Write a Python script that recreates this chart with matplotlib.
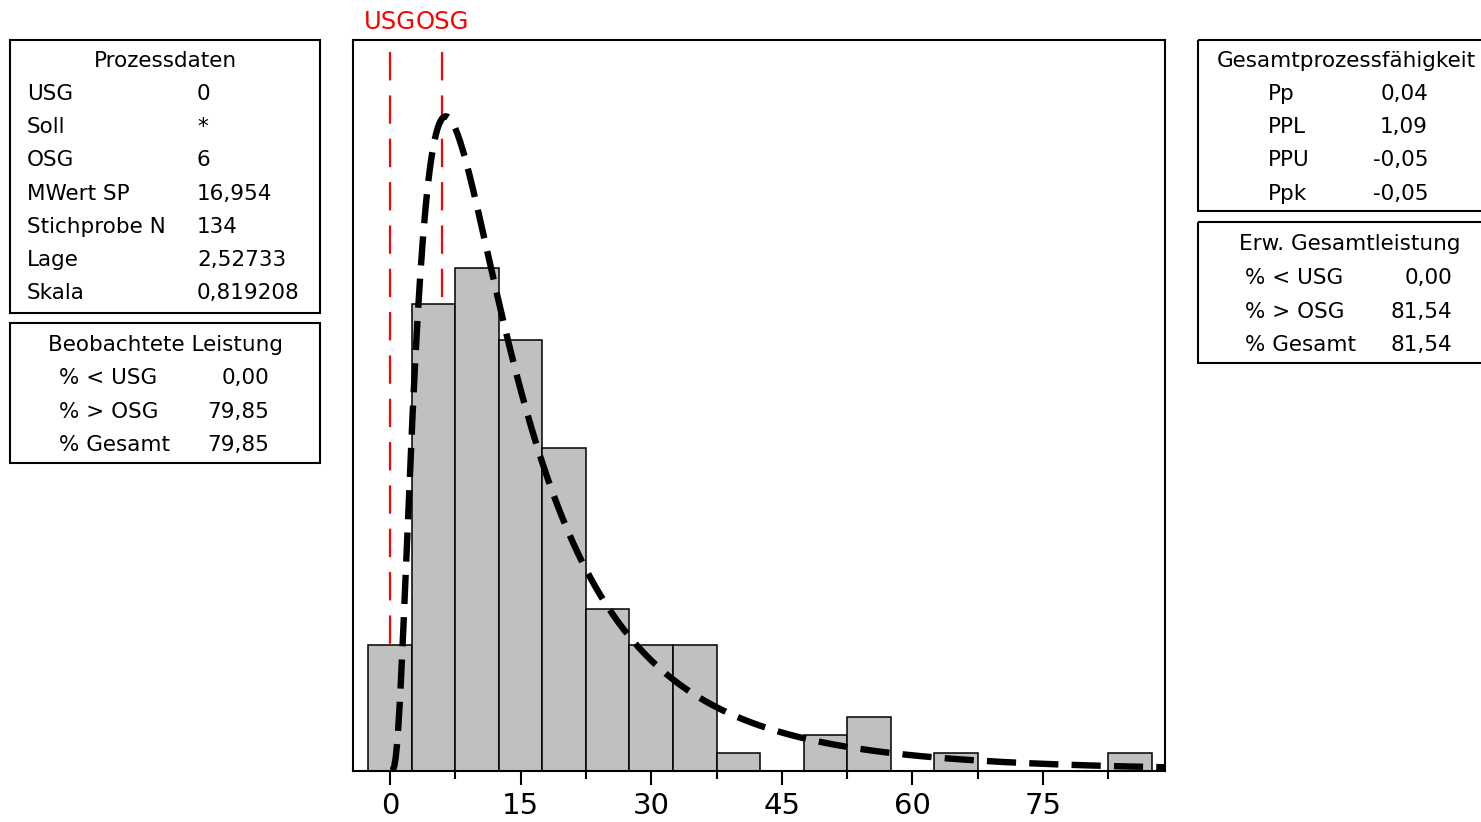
import numpy as np
import matplotlib
matplotlib.use("Agg")
import matplotlib.pyplot as plt
from matplotlib.patches import Rectangle
from matplotlib.ticker import MultipleLocator

# ─── DATA ─────────────────────────────────────────────────────────────────────
bin_centers = [0, 5, 10, 15, 20, 25, 30, 35, 40, 45, 50, 55, 60, 65, 70, 75, 80, 85]
counts      = [7, 26, 28, 24, 18, 9, 7, 7, 1, 0, 2, 3, 0, 1, 0, 0, 0, 1]
bin_width   = 5
usg, osg    = 0, 6
n_sample    = 134
lage, skala = 2.52733, 0.819208

prozess_labels = ["USG", "Soll", "OSG", "MWert SP", "Stichprobe N", "Lage", "Skala"]
prozess_values = ["0", "*", "6", "16,954", "134", "2,52733", "0,819208"]
beob_labels = ["% < USG", "% > OSG", "% Gesamt"]
beob_values = ["0,00", "79,85", "79,85"]
faehig_labels = ["Pp", "PPL", "PPU", "Ppk"]
faehig_values = ["0,04", "1,09", "-0,05", "-0,05"]
erw_labels = ["% < USG", "% > OSG", "% Gesamt"]
erw_values = ["0,00", "81,54", "81,54"]
# ──────────────────────────────────────────────────────────────────────────────

plt.rcParams["font.family"] = ["DejaVu Sans"]
plt.rcParams["lines.scale_dashes"] = False

W, H = 1481, 822
fig = plt.figure(figsize=(W / 100, H / 100), dpi=100)

# main histogram axes (pixel frame 353..1165 x 40..771)
ax = fig.add_axes([353 / W, 1 - 771 / H, (1165 - 353) / W, (771 - 40) / H])
ax.set_xlim(-4.25, 89.0)
ax.set_ylim(0, 40.7)

ax.bar(bin_centers, counts, width=bin_width, color="#c0c0c0",
       edgecolor="black", linewidth=1.1, zorder=2)

# fitted lognormal curve, scaled to counts
x = np.linspace(0.05, 89.0, 600)
pdf = np.exp(-(np.log(x) - lage) ** 2 / (2 * skala ** 2)) / (x * skala * np.sqrt(2 * np.pi))
ax.plot(x, pdf * n_sample * bin_width, color="black", linewidth=4.6,
        dashes=(21, 9.5), zorder=3, clip_on=True)

# spec limits
for lim, name in [(usg, "USG"), (osg, "OSG")]:
    ax.plot([lim, lim], [40.7, 0], color="red", linewidth=1.6,
            linestyle=(22.5, (20.4, 10.8)), zorder=1)
    ax.text(lim, 1.0246, name, color="red", fontsize=17.5, ha="center",
            va="center", transform=ax.get_xaxis_transform(), clip_on=False)

ax.set_yticks([])
ax.xaxis.set_major_locator(MultipleLocator(15))
ax.xaxis.set_minor_locator(MultipleLocator(7.5))
ax.set_xticks([0, 15, 30, 45, 60, 75])
ax.tick_params(axis="x", which="major", length=10, width=1.5, labelsize=21, pad=5)
ax.tick_params(axis="x", which="minor", length=6, width=1.5)
for s in ax.spines.values():
    s.set_linewidth(1.5)

# overlay in pixel coordinates for the info boxes
ov = fig.add_axes([0, 0, 1, 1])
ov.set_xlim(0, W)
ov.set_ylim(H, 0)
ov.axis("off")
ov.patch.set_visible(False)

fs = 15.5


def box(x0, y0, x1, y1):
    ov.add_patch(Rectangle((x0, y0), x1 - x0, y1 - y0, fill=False,
                           edgecolor="black", linewidth=1.5))


# Prozessdaten
box(10, 40, 320, 313)
ov.text(165, 61, "Prozessdaten", fontsize=fs, ha="center", va="center")
for i, (lab, val) in enumerate(zip(prozess_labels, prozess_values)):
    y = 94 + i * 33.2
    ov.text(27, y, lab, fontsize=fs, ha="left", va="center")
    ov.text(197, y, val, fontsize=fs, ha="left", va="center")

# Beobachtete Leistung
box(10, 323, 320, 463)
ov.text(165, 345, "Beobachtete Leistung", fontsize=fs, ha="center", va="center")
for i, (lab, val) in enumerate(zip(beob_labels, beob_values)):
    y = 378 + i * 33.5
    ov.text(59, y, lab, fontsize=fs, ha="left", va="center")
    ov.text(269, y, val, fontsize=fs, ha="right", va="center")

# Gesamtprozessfähigkeit
box(1198, 40, 1495, 211)
ov.text(1217, 61, "Gesamtprozessfähigkeit", fontsize=fs, ha="left", va="center")
for i, (lab, val) in enumerate(zip(faehig_labels, faehig_values)):
    y = 94 + i * 33.2
    ov.text(1268, y, lab, fontsize=fs, ha="left", va="center")
    ov.text(1428, y, val, fontsize=fs, ha="right", va="center")

# Erw. Gesamtleistung
box(1198, 222, 1495, 363)
ov.text(1350, 244, "Erw. Gesamtleistung", fontsize=fs, ha="center", va="center")
for i, (lab, val) in enumerate(zip(erw_labels, erw_values)):
    y = 278 + i * 33.5
    ov.text(1245, y, lab, fontsize=fs, ha="left", va="center")
    ov.text(1452, y, val, fontsize=fs, ha="right", va="center")

fig.savefig("out.png", dpi=100)
